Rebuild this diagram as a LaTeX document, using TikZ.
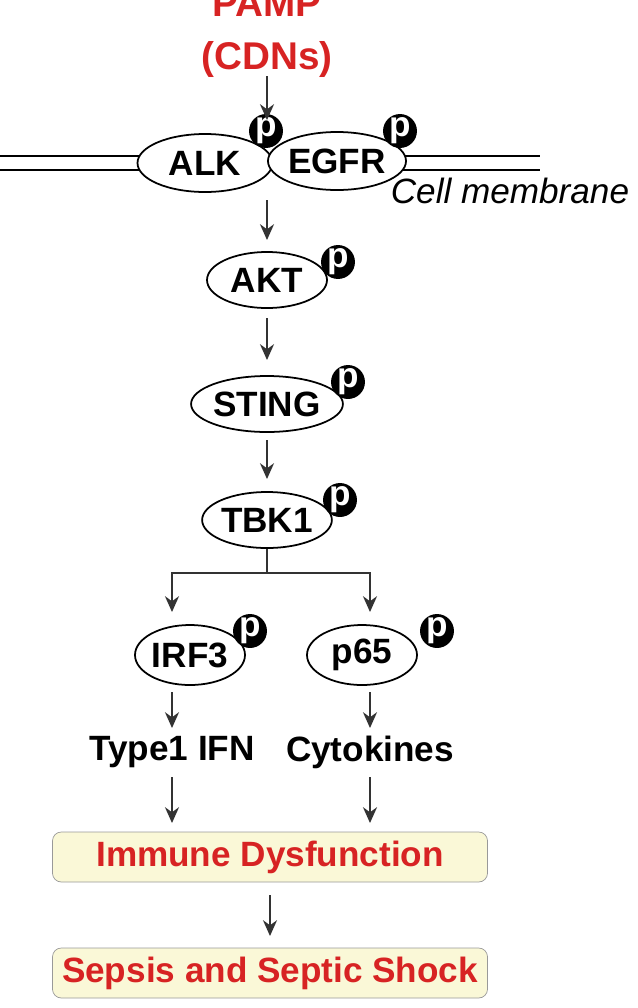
\documentclass[tikz,border=0pt]{standalone}
\usepackage{fontspec}
\setmainfont{Liberation Sans}
\usetikzlibrary{arrows.meta,shapes.geometric}
\definecolor{myred}{RGB}{215,35,35}
\definecolor{boxfill}{RGB}{250,248,215}
\newcommand{\bigf}{\fontsize{20}{24}\selectfont}
\begin{document}
\begin{tikzpicture}[x=0.02cm,y=-0.02cm,
  prot/.style={draw,ellipse,line width=1pt,minimum width=#1*0.02cm,minimum height=56*0.02cm,inner sep=0pt,font=\bfseries\bigf},
  pp/.style={circle,fill=black,text=white,font=\bfseries\bigf,minimum size=31*0.02cm,inner sep=0pt},
  arr/.style={-{Stealth[length=9pt,width=8pt]},line width=1.2pt,draw=black!80},
  lab/.style={font=\bfseries\bigf},
  rbox/.style={draw=black!40,fill=boxfill,rounded corners=5pt,minimum width=435*0.02cm,minimum height=50*0.02cm,text=myred,font=\bfseries\bigf}]
\useasboundingbox (0,0) rectangle (637,1008);
\node[font=\bfseries\fontsize{22}{30}\selectfont,text=myred,align=center] (pamp) at (267,34) {PAMP\\(CDNs)};
% membrane
\draw[line width=0.9pt] (0,156) -- (145,156) (0,170) -- (145,170);
\draw[line width=0.9pt] (400,156) -- (540,156) (400,170) -- (540,170);
\node[prot=135,minimum height=58*0.02cm,fill=white] (alk) at (205,163) {ALK};
\node[prot=135,minimum height=58*0.02cm,fill=white] (egfr) at (337,161) {EGFR};
\node[pp] (p1) at (266,131) {p};
\node[pp] (p2) at (400,131) {p};
\node[font=\itshape\bigf] (cm) at (510,191) {Cell membrane};
\coordinate (m0) at (267,76);
\coordinate (mtop) at (267,120);
\draw[arr] (m0) -- (mtop);
\node[prot=120] (akt) at (267,280) {AKT};
\node[pp] (p3) at (338,262) {p};
\coordinate (a1s) at (267,200); \coordinate (a1e) at (267,240);
\draw[arr] (a1s) -- (a1e);
\node[prot=120] (sting) at (267,404) {STING};
\node[pp] (p4) at (348,382) {p};
\coordinate (a2s) at (267,318); \coordinate (a2e) at (267,360);
\draw[arr] (a2s) -- (a2e);
\node[prot=120] (tbk) at (267,520) {TBK1};
\node[pp] (p5) at (340,500) {p};
\coordinate (a3s) at (267,440); \coordinate (a3e) at (267,479);
\draw[arr] (a3s) -- (a3e);
\node[prot=110,minimum height=60*0.02cm] (irf) at (190,655) {IRF3};
\node[pp] (p6) at (250,631) {p};
\node[prot=110,minimum height=60*0.02cm] (p65) at (362,655) {p65};
\node[pp] (p7) at (437,631) {p};
\coordinate (br) at (267,573);
\draw[line width=1.2pt,draw=black!80] (tbk.south) -- (br);
\draw[arr] (br) -| (172,612);
\draw[arr] (br) -| (370,612);
\node[lab] (ifn) at (172,752) {Type1 IFN};
\node[lab] (cyt) at (370,752) {Cytokines};
\coordinate (b1s) at (172,692); \coordinate (b1e) at (172,728);
\coordinate (b2s) at (370,692); \coordinate (b2e) at (370,728);
\draw[arr] (b1s) -- (b1e);
\draw[arr] (b2s) -- (b2e);
\node[rbox] (imm) at (270,857) {Immune Dysfunction};
\node[rbox] (sep) at (270,973) {Sepsis and Septic Shock};
\coordinate (c1s) at (172,777); \coordinate (c1e) at (172,823);
\coordinate (c2s) at (370,777); \coordinate (c2e) at (370,823);
\draw[arr] (c1s) -- (c1e);
\draw[arr] (c2s) -- (c2e);
\coordinate (a1) at (270,895);
\coordinate (a2) at (270,936);
\draw[arr] (a1) -- (a2);
\end{tikzpicture}
\end{document}
